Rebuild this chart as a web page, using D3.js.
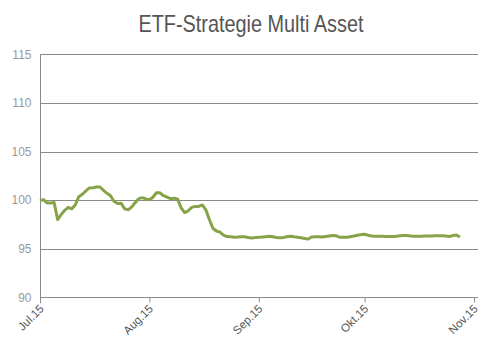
<!DOCTYPE html>
<html><head><meta charset="utf-8">
<script src="https://cdn.jsdelivr.net/npm/d3@7"></script>
<style>body{margin:0;background:#fff}svg{display:block}</style>
</head><body>
<svg id="c" width="502" height="350"></svg>
<script>
const title = "ETF-Strategie Multi Asset";
const startDate = "2015-07-01";
const values = [
99.95,100.05,99.7,99.7,99.75,98.0,98.5,98.95,99.25,99.1,
99.5,100.35,100.6,100.95,101.25,101.27,101.35,101.35,101.0,100.7,
100.45,99.85,99.65,99.68,99.1,99.0,99.3,99.75,100.15,100.25,
100.12,100.03,100.3,100.75,100.75,100.45,100.3,100.15,100.2,100.1,
99.2,98.72,98.9,99.25,99.35,99.35,99.5,99.0,98.0,97.1,
96.82,96.7,96.4,96.25,96.22,96.18,96.2,96.24,96.22,96.15,
96.1,96.14,96.17,96.2,96.24,96.28,96.22,96.16,96.12,96.15,
96.24,96.28,96.22,96.17,96.12,96.06,96.0,96.2,96.24,96.22,
96.2,96.26,96.31,96.36,96.33,96.17,96.17,96.18,96.24,96.3,
96.38,96.45,96.48,96.38,96.3,96.28,96.28,96.27,96.26,96.26,
96.25,96.29,96.33,96.37,96.35,96.3,96.28,96.28,96.29,96.3,
96.3,96.31,96.33,96.34,96.34,96.3,96.25,96.35,96.4,96.2
];
const yTicks = [90,95,100,105,110,115];
const xTickDates = ["2015-07-01","2015-08-01","2015-09-01","2015-10-01","2015-11-01"];
const xTickLabels = ["Jul.15","Aug.15","Sep.15","Okt.15","Nov.15"];

const parse = d3.utcParse("%Y-%m-%d");
const t0 = parse(startDate);
const data = values.map((v,i)=>({date:d3.utcDay.offset(t0,i), value:v}));
const xTicks = xTickDates.map(parse);

const svg = d3.select("#c");
const mLeft = 40, mRight = 474, mTop = 54.3, mBottom = 297.3;
const x = d3.scaleUtc().domain([xTicks[0], xTicks[xTicks.length-1]]).range([mLeft, mRight]);
const y = d3.scaleLinear().domain([90,115]).range([mBottom, mTop]);

svg.append("text").attr("x",251).attr("y",32).attr("text-anchor","middle")
  .attr("font-family","'Liberation Sans Narrow', 'Liberation Sans', sans-serif")
  .attr("font-size",24).attr("fill","#555").attr("textLength",225).attr("lengthAdjust","spacingAndGlyphs")
  .text(title);

// gridlines
svg.append("g").selectAll("line").data(yTicks).join("line")
  .attr("x1",mLeft).attr("x2",478).attr("y1",d=>Math.round(y(d))+0.5).attr("y2",d=>Math.round(y(d))+0.5)
  .attr("stroke","#8a8a8a").attr("stroke-width",1);

// y axis
const yAxis = svg.append("g").attr("transform",`translate(${mLeft+0.5},0)`)
  .call(d3.axisLeft(y).tickValues(yTicks).tickSize(0).tickPadding(9));
yAxis.select(".domain").remove();
yAxis.selectAll("text").attr("font-family","'Liberation Sans', Arial, sans-serif").attr("font-size",12)
  .style("fill","#9a9a9a");
svg.append("line").attr("x1",mLeft+0.5).attr("x2",mLeft+0.5).attr("y1",mTop).attr("y2",mBottom+6)
  .attr("stroke","#8a8a8a");

// x axis
const xAxis = svg.append("g").attr("transform",`translate(0,${Math.round(mBottom)+0.5})`)
  .call(d3.axisBottom(x).tickValues(xTicks).tickSize(5).tickFormat((d,i)=>xTickLabels[i]));
xAxis.select(".domain").remove();
xAxis.selectAll("line").attr("stroke","#8a8a8a");
xAxis.selectAll("text").attr("font-family","'Liberation Sans', Arial, sans-serif").attr("font-size",11.5)
  .style("fill","#555").attr("text-anchor","end").attr("dy",null).attr("y",null)
  .attr("transform","translate(4,12) rotate(-45)");

// line
svg.append("path").datum(data)
  .attr("d", d3.line().x(d=>x(d.date)).y(d=>y(d.value)))
  .attr("fill","none").attr("stroke","#86a347").attr("stroke-width",3).attr("stroke-linejoin","round");
</script>
</body></html>
